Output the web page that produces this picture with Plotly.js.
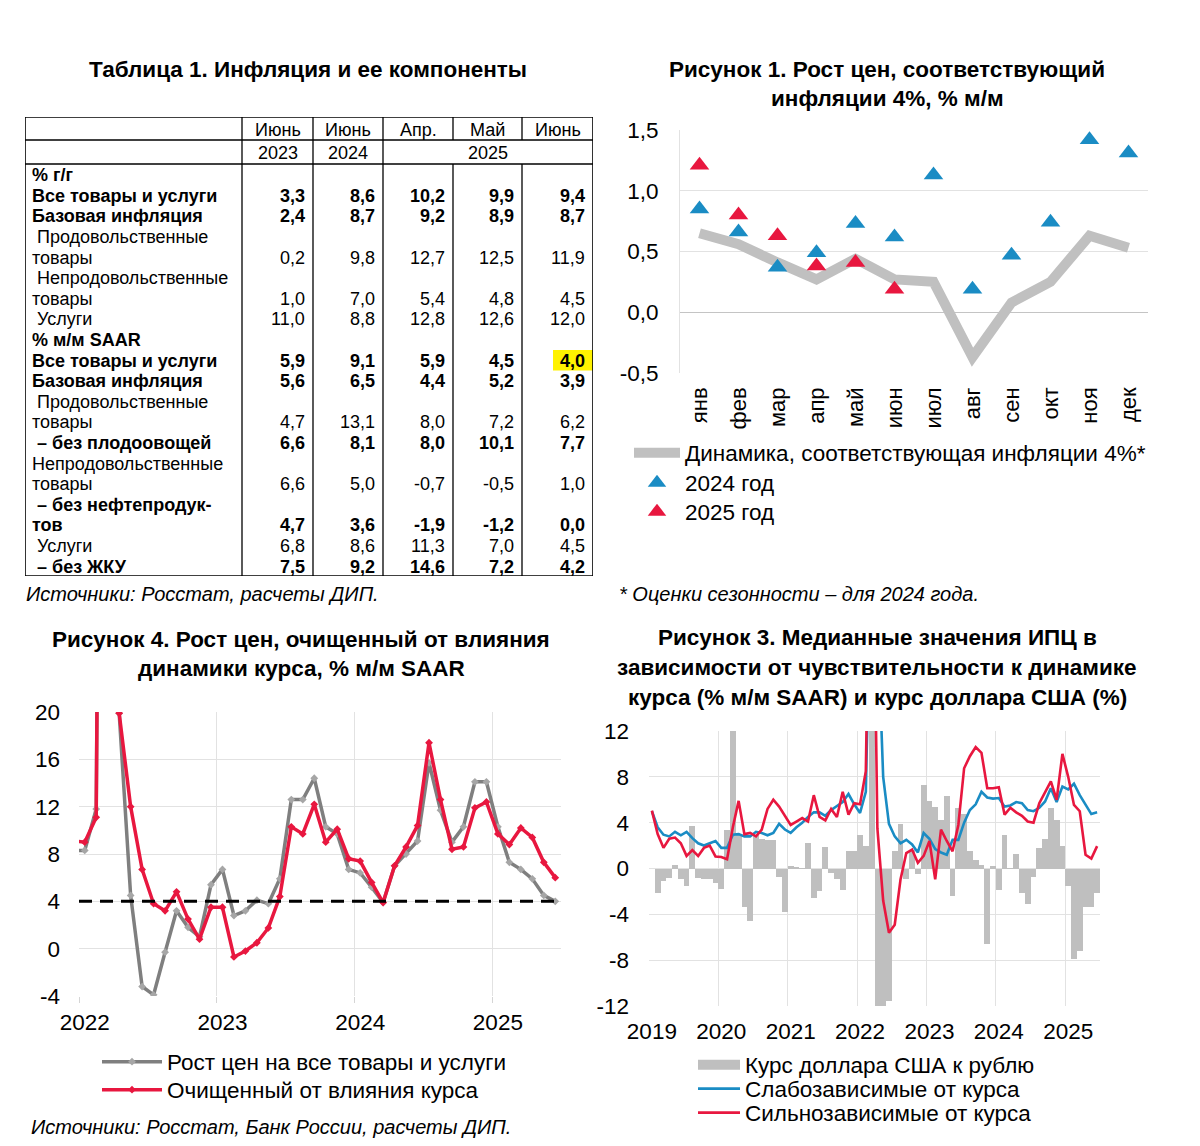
<!DOCTYPE html>
<html><head><meta charset="utf-8">
<script src="https://cdn.plot.ly/plotly-3.0.1.min.js"></script>
<style>html,body{margin:0;padding:0;background:#fff;width:1200px;height:1146px;overflow:hidden;}#chart{width:1200px;height:1146px;overflow:hidden;}</style>
</head><body><div id="chart"></div>
<script>
// ---------------- Table 1 data ----------------
const tableMonths = ['Июнь','Июнь','Апр.','Май','Июнь'];
const tableYears = ['2023','2024','2025'];
const tableLabels = ['% г/г','Все товары и услуги','Базовая инфляция',' Продовольственные','товары',
  ' Непродовольственные','товары',' Услуги','% м/м SAAR','Все товары и услуги','Базовая инфляция',
  ' Продовольственные','товары',' – без плодоовощей','Непродовольственные','товары',
  ' – без нефтепродук-','тов',' Услуги',' – без ЖКУ'];
const tableValues = [null,[3.3,8.6,10.2,9.9,9.4],[2.4,8.7,9.2,8.9,8.7],null,[0.2,9.8,12.7,12.5,11.9],
  null,[1.0,7.0,5.4,4.8,4.5],[11.0,8.8,12.8,12.6,12.0],null,[5.9,9.1,5.9,4.5,4.0],[5.6,6.5,4.4,5.2,3.9],
  null,[4.7,13.1,8.0,7.2,6.2],[6.6,8.1,8.0,10.1,7.7],null,[6.6,5.0,-0.7,-0.5,1.0],
  null,[4.7,3.6,-1.9,-1.2,0.0],[6.8,8.6,11.3,7.0,4.5],[7.5,9.2,14.6,7.2,4.2]];

// ---------------- Figure 1 data ----------------
const months1 = ['янв','фев','мар','апр','май','июн','июл','авг','сен','окт','ноя','дек'];
const path4pct = [0.65,0.56,0.41,0.27,0.44,0.27,0.25,-0.37,0.08,0.25,0.63,0.53];
const year2024 = [0.85,0.66,0.37,0.49,0.73,0.62,1.13,0.19,0.47,0.74,1.42,1.31];
const year2025 = [1.21,0.80,0.63,0.38,0.41,0.19,null,null,null,null,null,null];
const fig1YTicks = [-0.5,0,0.5,1,1.5];

// ---------------- Figure 4 data (Dec 2021 .. Jun 2025, % m/m SAAR) ----------------
const allGoods = [8.3,8.3,11.8,140,19.9,4.5,-3.2,-3.9,-0.3,3.2,1.8,1.0,5.4,
  6.7,2.8,3.2,4.1,3.8,5.9,12.6,12.6,14.4,10.3,9.7,6.7,
  6.4,5.2,3.9,7.0,8.0,9.1,15.7,11.7,9.0,10.3,14.1,14.1,
  10.3,7.3,6.7,5.9,4.5,4.0];
const exFx = [9.1,9.0,11.1,150,19.9,12.0,6.7,3.8,3.2,4.8,2.5,0.8,3.5,
  3.5,-0.7,-0.2,0.5,1.75,4.4,10.3,9.7,12.2,9.0,10.1,7.6,
  7.4,5.6,3.9,7.0,8.6,10.4,17.4,12.6,8.4,8.6,11.9,12.4,
  9.7,8.8,10.2,9.4,7.3,6.0];
const target4 = 4;
const fig4Years = ['2022','2023','2024','2025'];
const fig4YTicks = [-4,0,4,8,12,16,20];

// ---------------- Figure 3 data (Jan 2019 .. Jun 2025) ----------------
const usdRub = [null,-2.1,-1.1,-0.85,0.3,-0.9,-1.5,3.7,-0.8,-0.9,-0.9,-1.3,
  -1.75,3.4,16,2.9,-3.4,-4.6,2.9,2.6,2.5,2.5,-0.7,-3.8,
  0.2,0.15,0.05,2.2,-2.6,-2.0,1.9,-0.4,-0.9,-1.9,1.5,1.5,
  2.9,1.95,20,-15,-14,-11.6,1.5,3.9,-0.9,1.6,-0.5,7.3,
  5.85,5.4,4.2,6.3,-2.4,5.3,4.8,1.5,0.7,0.3,-6.6,0.2,
  -1.9,2.95,0.05,1.3,-2.1,-3.1,-0.75,1.75,2.6,5.3,4.25,2.0,
  -1.55,-7.9,-7.2,-3.35,-3.35,-2.1];
const weakFx = [5.0,3.6,2.95,2.8,3.2,2.9,3.2,2.65,2.2,2.0,2.2,2.4,
  1.8,1.8,2.95,3.0,2.8,2.8,3.2,3.1,2.9,3.1,3.9,3.4,
  3.1,3.6,4.0,4.5,4.9,4.9,4.6,5.1,5.45,5.8,6.5,5.6,
  4.85,6.7,30,22,8.0,3.9,2.8,2.2,2.5,2.1,1.4,3.1,
  2.6,1.7,1.4,1.2,2.5,2.5,4.0,5.1,5.6,6.7,6.2,6.1,
  6.15,5.4,5.5,5.8,5.7,5.1,5.0,5.3,5.85,7.0,5.8,7.15,
  6.9,7.4,6.4,5.55,4.75,4.9];
const strongFx = [5.05,3.0,1.8,2.6,2.7,2.2,1.1,1.6,1.1,1.8,2.0,1.05,
  1.0,0.8,3.6,5.9,3.0,3.1,2.8,3.4,5.2,6.0,5.4,4.6,
  3.8,4.1,4.4,4.1,6.4,4.5,4.2,5.2,4.5,6.7,4.7,5.7,
  5.6,8.5,40,3.5,-2.8,-5.6,-4.9,-0.95,1.35,1.65,0.5,1.1,
  2.4,-0.95,3.4,2.4,1.5,3.8,8.75,9.8,10.6,10.1,7.0,7.0,
  7.1,4.7,5.3,4.9,4.6,4.1,4.0,5.7,6.7,7.6,6.0,10.0,
  8.0,5.55,5.0,1.2,0.87,1.95];
const fig3Years = ['2019','2020','2021','2022','2023','2024','2025'];
const fig3YTicks = [-12,-8,-4,0,4,8,12];

// ---------------- helpers ----------------
const W = 1200, H = 1146;
const px = x => x / W, py = y => 1 - y / H;
const FONT = 'Liberation Sans, Arial, sans-serif';
const RED = '#E8173F', BLUE = '#1A8CC4', GRID = '#E2E2E2';
const TF = 22.5;
const fmt = v => v.toFixed(1).replace('.', ',');
const tickText = arr => arr.map(v => String(v).replace('.', ','));
function monthSeq(y0, m0, n) {
  const out = [];
  for (let k = 0; k < n; k++) { const t = m0 - 1 + k; out.push((y0 + Math.floor(t / 12)) + '-' + String(t % 12 + 1).padStart(2, '0')); }
  return out;
}
const months4 = monthSeq(2021, 12, allGoods.length);
const months3 = monthSeq(2019, 1, usdRub.length);
const idx4 = months4.map(m => (+m.slice(0, 4) - 2022) * 12 + (+m.slice(5) - 1));
const idx3 = months3.map(m => (+m.slice(0, 4) - 2019) * 12 + (+m.slice(5) - 1));
const janIdx = (years, y0) => years.map(y => (+y - y0) * 12);

const traces = [];
// Figure 1
traces.push({x: months1, y: path4pct, type: 'scatter', mode: 'lines', name: 'Динамика, соответствующая инфляции 4%*',
  line: {color: '#C0C0C0', width: 10}, xaxis: 'x', yaxis: 'y', legend: 'legend'});
traces.push({x: months1, y: year2024, type: 'scatter', mode: 'markers', name: '2024 год',
  marker: {symbol: 'triangle-up', size: 17, color: BLUE}, xaxis: 'x', yaxis: 'y', legend: 'legend2'});
traces.push({x: months1, y: year2025, type: 'scatter', mode: 'markers', name: '2025 год',
  marker: {symbol: 'triangle-up', size: 17, color: RED}, xaxis: 'x', yaxis: 'y', legend: 'legend3'});
// Figure 4
traces.push({x: idx4, y: allGoods, type: 'scatter', mode: 'lines+markers', name: 'Рост цен на все товары и услуги',
  line: {color: '#7F7F7F', width: 3.5}, marker: {symbol: 'diamond', size: 6, color: '#A6A6A6'},
  xaxis: 'x2', yaxis: 'y2', legend: 'legend4'});
traces.push({x: idx4, y: exFx, type: 'scatter', mode: 'lines+markers', name: 'Очищенный от влияния курса',
  line: {color: RED, width: 3.5}, marker: {symbol: 'diamond', size: 6, color: RED},
  xaxis: 'x2', yaxis: 'y2', legend: 'legend5'});
// Figure 3
traces.push({x: [null], y: [null], type: 'scatter', mode: 'lines', name: 'Курс доллара США к рублю',
  line: {color: '#BFBFBF', width: 10}, xaxis: 'x3', yaxis: 'y3', legend: 'legend6'});
traces.push({x: idx3, y: usdRub, type: 'bar', name: 'Курс доллара США к рублю', showlegend: false,
  marker: {color: '#BFBFBF', line: {width: 0}}, xaxis: 'x3', yaxis: 'y3'});
traces.push({x: idx3, y: weakFx, type: 'scatter', mode: 'lines', name: 'Слабозависимые от курса',
  line: {color: BLUE, width: 2.6}, xaxis: 'x3', yaxis: 'y3', legend: 'legend7'});
traces.push({x: idx3, y: strongFx, type: 'scatter', mode: 'lines', name: 'Сильнозависимые от курса',
  line: {color: RED, width: 2.6}, xaxis: 'x3', yaxis: 'y3', legend: 'legend8'});

// ---------------- Table geometry (table axis units = page pixels) ----------------
const colEdges = [25, 242, 313, 383, 453, 522, 593];
const tTop = 117, tHead1 = 140, tHead2 = 164, tBottom = 576;
const rowH = (tBottom - tHead2) / tableLabels.length;
const BOLD_ROWS = [0, 1, 2, 8, 9, 10, 13, 16, 17, 19];
const annotations = [], shapes = [];
const tAnn = (o) => annotations.push(Object.assign({xref: 'x4', yref: 'y4', showarrow: false, font: {size: 18, color: '#000'}}, o));

tableMonths.forEach((m, i) => tAnn({x: (colEdges[i + 1] + colEdges[i + 2]) / 2, y: (tTop + tHead1) / 2 + 1, text: m, xanchor: 'center', yanchor: 'middle'}));
const yearSpans = [[1, 2], [2, 3], [3, 6]];
tableYears.forEach((y, i) => tAnn({x: (colEdges[yearSpans[i][0]] + colEdges[yearSpans[i][1]]) / 2, y: (tHead1 + tHead2) / 2 + 1, text: y, xanchor: 'center', yanchor: 'middle'}));
tableLabels.forEach((lab, r) => {
  const yc = tHead2 + rowH * (r + 0.5) + 0.8;
  const bold = BOLD_ROWS.includes(r);
  const indent = lab.startsWith(' ');
  const t = lab.trim();
  tAnn({x: colEdges[0] + (indent ? 10 : 5), y: yc, text: bold ? '<b>' + t + '</b>' : t, xanchor: 'left', yanchor: 'middle'});
  const vals = tableValues[r];
  if (vals) vals.forEach((v, c) => {
    tAnn({x: colEdges[c + 2] - 6, y: yc, text: bold ? '<b>' + fmt(v) + '</b>' : fmt(v), xanchor: 'right', yanchor: 'middle'});
  });
});
// highlight for latest SAAR headline
const hlRow = 9;
shapes.push({type: 'rect', xref: 'x4', yref: 'y4', x0: colEdges[6] - 40, x1: colEdges[6] + 4,
  y0: tHead2 + rowH * hlRow + 0.5, y1: tHead2 + rowH * (hlRow + 1) + 0.5, fillcolor: '#FFF200', line: {width: 0}, layer: 'below'});
const tLine = (x0, y0, x1, y1, w) => shapes.push({type: 'line', xref: 'x4', yref: 'y4', x0, y0, x1, y1, line: {color: '#000', width: w || 1.3}});
tLine(colEdges[0], tTop, colEdges[6], tTop, 1.6);
tLine(colEdges[0], tBottom, colEdges[6], tBottom, 1.6);
tLine(colEdges[0], tTop, colEdges[0], tBottom, 1.6);
tLine(colEdges[6], tTop, colEdges[6], tBottom, 1.6);
tLine(colEdges[0], tHead1, colEdges[6], tHead1);
tLine(colEdges[0], tHead2, colEdges[6], tHead2);
[1, 2, 3].forEach(i => tLine(colEdges[i], tTop, colEdges[i], tBottom));
[4, 5].forEach(i => { tLine(colEdges[i], tTop, colEdges[i], tHead1); tLine(colEdges[i], tHead2, colEdges[i], tBottom); });

// dashed 4% line in Figure 4
shapes.push({type: 'line', xref: 'x2 domain', yref: 'y2', x0: 0, x1: 1, y0: target4, y1: target4,
  line: {color: '#000', width: 3, dash: '13px,8px'}});

// ---------------- page texts ----------------
const pAnn = (x, y, text, o) => annotations.push(Object.assign({xref: 'paper', yref: 'paper', x: px(x), y: py(y), text, showarrow: false,
  xanchor: 'center', yanchor: 'middle', font: {size: TF, color: '#000'}}, o || {}));
pAnn(308, 70, '<b>Таблица 1. Инфляция и ее компоненты</b>');
pAnn(887, 70, '<b>Рисунок 1. Рост цен, соответствующий</b>');
pAnn(887, 99, '<b>инфляции 4%, % м/м</b>');
pAnn(24, 594, '<i>Источники: Росстат, расчеты ДИП.</i>', {xanchor: 'left', font: {size: 20, color: '#000'}});
pAnn(617, 594, '<i>* Оценки сезонности – для 2024 года.</i>', {xanchor: 'left', font: {size: 20, color: '#000'}});
pAnn(301, 639, '<b>Рисунок 4. Рост цен, очищенный от влияния</b>');
pAnn(301, 668, '<b>динамики курса, % м/м SAAR</b>');
pAnn(877, 637, '<b>Рисунок 3. Медианные значения ИПЦ в</b>');
pAnn(877, 667, '<b>зависимости от чувствительности к динамике</b>');
pAnn(877, 697, '<b>курса (% м/м SAAR) и курс доллара США (%)</b>');
pAnn(29, 1127, '<i>Источники: Росстат, Банк России, расчеты ДИП.</i>', {xanchor: 'left', font: {size: 20, color: '#000'}});

const leg = (x, y, iw) => ({bgcolor: 'rgba(0,0,0,0)', borderwidth: 0, xanchor: 'left', yanchor: 'middle',
  x: px(x), y: py(y), font: {size: TF}, itemwidth: iw});
const fig1Dom = [py(373), py(130)], fig1Range = [-0.5, 1.5];
const zeroPos = fig1Dom[0] + (0 - fig1Range[0]) / (fig1Range[1] - fig1Range[0]) * (fig1Dom[1] - fig1Dom[0]);
const layout = {
  width: W, height: H, margin: {l: 0, r: 0, t: 0, b: 0}, paper_bgcolor: '#fff', plot_bgcolor: 'rgba(0,0,0,0)',
  font: {family: FONT, color: '#000', size: TF}, separators: ', ', bargap: 0, showlegend: true, hovermode: false,
  xaxis: {domain: [px(680), px(1148)], anchor: 'y', type: 'category', range: [-0.5, 11.5], tickangle: -90, tickfont: {size: 22},
    showgrid: false, showline: false, ticks: '', ticklabelstandoff: 9, fixedrange: true},
  xaxis5: {domain: [px(680), px(1148)], overlaying: 'x', anchor: 'free', position: zeroPos, side: 'bottom', range: [-0.5, 11.5],
    tickvals: months1.map((m, i) => i - 0.5).concat([months1.length - 0.5]), showticklabels: false, ticks: 'outside', ticklen: 6,
    tickcolor: '#C4C4C4', tickwidth: 1.2, showgrid: false, zeroline: false, showline: false, fixedrange: true},
  yaxis: {domain: fig1Dom, anchor: 'x', range: fig1Range, tickvals: fig1YTicks, ticktext: tickText(fig1YTicks.map(v => v.toFixed(1))),
    gridcolor: GRID, zeroline: true, zerolinecolor: '#C4C4C4', zerolinewidth: 1.5, showline: true, linecolor: GRID,
    tickfont: {size: TF}, ticklabelstandoff: 16, fixedrange: true},
  xaxis2: {domain: [px(79), px(561)], anchor: 'y2', range: [-0.5, 41.5], tickvals: janIdx(fig4Years, 2022), ticktext: fig4Years,
    showgrid: false, zeroline: false, showline: false, ticks: '', tickfont: {size: TF}, ticklabelstandoff: 10,
    minor: {tickmode: 'linear', tick0: -0.5, dtick: 12, showgrid: true, gridcolor: GRID, ticks: 'outside', ticklen: 6, tickcolor: '#D5D5D5'}, fixedrange: true},
  yaxis2: {domain: [py(996), py(712)], anchor: 'x2', range: [-4, 20], tickvals: fig4YTicks, ticktext: tickText(fig4YTicks),
    gridcolor: GRID, zeroline: false, showline: false, tickfont: {size: TF}, ticklabelstandoff: 18, fixedrange: true},
  xaxis3: {domain: [px(649), px(1100)], anchor: 'y3', range: [-0.5, 77.5], tickvals: janIdx(fig3Years, 2019), ticktext: fig3Years,
    showgrid: false, zeroline: false, showline: false, ticks: '', tickfont: {size: TF}, ticklabelstandoff: 9,
    minor: {tickmode: 'linear', tick0: -0.5, dtick: 12, showgrid: true, gridcolor: GRID, ticks: ''}, fixedrange: true},
  yaxis3: {domain: [py(1006), py(731)], anchor: 'x3', range: [-12, 12], tickvals: fig3YTicks, ticktext: tickText(fig3YTicks),
    gridcolor: GRID, zeroline: false, showline: false, tickfont: {size: TF}, ticklabelstandoff: 19, fixedrange: true},
  xaxis4: {domain: [px(25), px(593)], anchor: 'y4', range: [25, 593], visible: false, fixedrange: true},
  yaxis4: {domain: [py(576), py(117)], anchor: 'x4', range: [576, 117], visible: false, fixedrange: true},
  legend: leg(629, 453, 46), legend2: leg(629, 483, 46), legend3: leg(629, 512, 46),
  legend4: leg(97, 1062, 60), legend5: leg(97, 1090, 60),
  legend6: leg(693, 1065, 42), legend7: leg(693, 1089, 42), legend8: leg(693, 1113, 42),
  annotations, shapes
};
Plotly.newPlot('chart', traces, layout, {staticPlot: true, displayModeBar: false});
</script></body></html>
